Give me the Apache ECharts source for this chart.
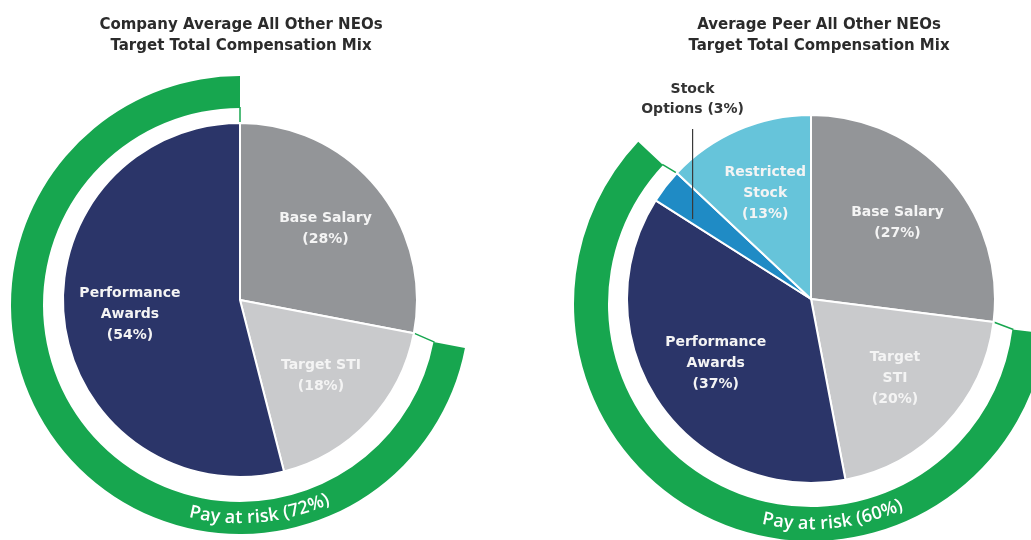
<!DOCTYPE html>
<html>
<head>
<meta charset="utf-8">
<script src="https://cdn.jsdelivr.net/npm/echarts@6/dist/echarts.min.js"></script>
<style>
  html, body { margin: 0; background: #fff; }
  #chart { width: 1031px; height: 540px; }
</style>
</head>
<body>
<div id="chart"></div>
<script>
// data (percent of target total compensation)
var leftNames = ['Base Salary', 'Target STI', 'Performance\nAwards'];
var leftValues = [28, 18, 54];
var rightNames = ['Base Salary', 'Target\nSTI', 'Performance\nAwards', 'Stock\nOptions', 'Restricted\nStock'];
var rightValues = [27, 20, 37, 3, 13];
var leftAtRisk = 72;
var rightAtRisk = 60;
var titles = [
  'Company Average All Other NEOs\nTarget Total Compensation Mix',
  'Average Peer All Other NEOs\nTarget Total Compensation Mix'
];

var leftColors = ['#939598', '#c9cacc', '#2b3569'];
var rightColors = ['#939598', '#c9cacc', '#2b3569', '#1f8bc5', '#66c4da'];
var green = '#17a64f';
var labelFont = 'DejaVu Sans';

// layout (ring sits a few px lower than the pie in the original)
var L = { cx: 240, cy: 300, r: 177, rcy: 305, ring: [197, 229], textMid: 84.6 };
var R = { cx: 811, cy: 299, r: 184, rcy: 304, ring: [203, 237], textMid: 84.2 };

var chart = echarts.init(document.getElementById('chart'));

function pointAt(cx, cy, frac, rad) {
  var t = frac * Math.PI * 2;
  return [cx + rad * Math.sin(t), cy - rad * Math.cos(t)];
}

function sum(a) { return a.reduce(function (s, v) { return s + v; }, 0); }

function mainPie(g, names, values, colors) {
  return {
    type: 'pie',
    center: [g.cx, g.cy],
    radius: [0, g.r],
    startAngle: 90,
    avoidLabelOverlap: false,
    silent: true,
    z: 3,
    itemStyle: { borderColor: '#fff', borderWidth: 2 },
    label: { show: false },
    labelLine: { show: false },
    data: names.map(function (n, i) {
      return { name: n, value: values[i], itemStyle: { color: colors[i] } };
    })
  };
}

function labelPie(g, names, values, skip) {
  return {
    type: 'pie',
    center: [g.cx, g.cy],
    radius: [0, g.r * 1.22],
    startAngle: 90,
    avoidLabelOverlap: false,
    silent: true,
    z: 5,
    itemStyle: { color: 'transparent' },
    label: {
      show: true,
      position: 'inside',
      formatter: '{b}\n({c}%)',
      color: '#f4f4f4',
      fontFamily: labelFont,
      fontWeight: 'bold',
      fontSize: 14,
      lineHeight: 21
    },
    labelLine: { show: false },
    data: names.map(function (n, i) {
      return { name: n, value: values[i], label: { show: i !== skip } };
    })
  };
}

function ringPie(g, base, atRisk) {
  return {
    type: 'pie',
    center: [g.cx, g.rcy],
    radius: g.ring,
    startAngle: 90,
    silent: true,
    z: 2,
    label: { show: false },
    labelLine: { show: false },
    data: [
      { name: 'base', value: base, itemStyle: { color: 'transparent' } },
      { name: 'Pay at risk', value: atRisk, itemStyle: { color: green } },
      { name: 'rest', value: 100 - base - atRisk, itemStyle: { color: 'transparent' } }
    ]
  };
}

// curved "Pay at risk" text inside the ring
var measure = document.createElement('canvas').getContext('2d');
function arcText(g, str) {
  var font = '600 18px "Open Sans"';
  measure.font = font;
  var chars = str.split('');
  var widths = chars.map(function (c) { return measure.measureText(c).width; });
  var rad = (g.ring[0] + g.ring[1]) / 2;
  var phi0 = g.textMid * Math.PI / 180 + sum(widths) / 2 / rad;
  var acc = 0;
  return chars.map(function (ch, i) {
    var phi = phi0 - (acc + widths[i] / 2) / rad;
    acc += widths[i];
    return {
      type: 'text',
      x: g.cx + rad * Math.cos(phi),
      y: g.rcy + rad * Math.sin(phi),
      rotation: Math.PI / 2 - phi,
      silent: true,
      z: 20,
      style: { text: ch, font: font, fill: '#fff', align: 'center', verticalAlign: 'middle' }
    };
  });
}

// thin green ticks joining ring ends to the pie edge
function connectors(g, base, atRisk) {
  return [base / 100, (base + atRisk) / 100].map(function (f) {
    var a = pointAt(g.cx, g.cy, f, g.r), b = pointAt(g.cx, g.rcy, f, g.ring[0] + 1);
    return {
      type: 'line', silent: true, z: 1,
      shape: { x1: a[0], y1: a[1], x2: b[0], y2: b[1] },
      style: { stroke: green, lineWidth: 1.5 }
    };
  });
}

// stock options call-out
var optIdx = 3;
var optMid = (sum(rightValues.slice(0, optIdx)) + rightValues[optIdx] / 2) / 100;
var optPt = pointAt(R.cx, R.cy, optMid, R.r * 0.78);
var optTop = R.cy - R.r + 4;
var optX = optPt[0] - 5;

var rightMain = mainPie(R, rightNames, rightValues, rightColors);
rightMain.data[optIdx].label = {
  show: true,
  position: 'outside',
  formatter: '{b} ({c}%)',
  color: '#333',
  fontFamily: labelFont,
  fontWeight: 'bold',
  fontSize: 14,
  lineHeight: 20
};
rightMain.labelLayout = function (p) {
  if (p.dataIndex !== optIdx) return;
  return { x: optX, y: optTop, align: 'center', verticalAlign: 'bottom' };
};

var option = {
  backgroundColor: '#fff',
  animation: false,
  title: titles.map(function (t, i) {
    return {
      text: t,
      left: i === 0 ? 236 : 814,
      top: 10,
      textAlign: 'center',
      textStyle: { fontFamily: labelFont, fontWeight: 'bold', fontSize: 15, lineHeight: 21, color: '#2b2b2b' }
    };
  }),
  series: [
    ringPie(L, leftValues[0], leftAtRisk),
    mainPie(L, leftNames, leftValues, leftColors),
    labelPie(L, leftNames, leftValues, -1),
    ringPie(R, rightValues[0], rightAtRisk),
    rightMain,
    labelPie(R, rightNames, rightValues, optIdx)
  ],
  graphic: [].concat(
    connectors(L, leftValues[0], leftAtRisk),
    connectors(R, rightValues[0], rightAtRisk),
    [{
      type: 'line', silent: true, z: 30,
      shape: { x1: optX, y1: optTop + 10, x2: optX, y2: optPt[1] + 8 },
      style: { stroke: '#3a3a3a', lineWidth: 1.2 }
    }],
    arcText(L, 'Pay at risk (' + leftAtRisk + '%)'),
    arcText(R, 'Pay at risk (' + rightAtRisk + '%)')
  )
};

chart.setOption(option);
</script>
</body>
</html>
